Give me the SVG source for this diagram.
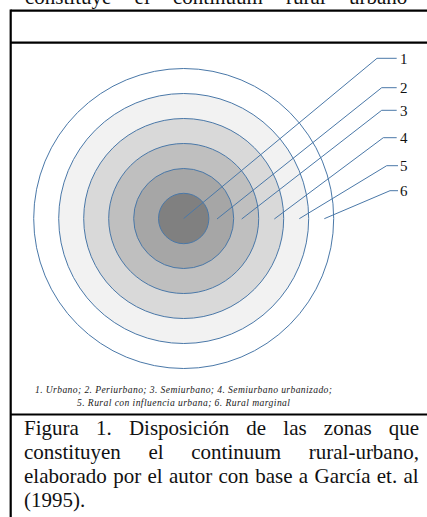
<svg xmlns="http://www.w3.org/2000/svg" width="427" height="517" viewBox="0 0 427 517">
<style>
.frame{stroke:#000;stroke-width:2.2;fill:none}
.ring{stroke:#4a78a8;stroke-width:1}
.lead{stroke:#4a78a8;stroke-width:1;fill:none}
.num{font-family:"Liberation Serif","Times New Roman",serif;font-size:15px;fill:#111}
.leg{font-family:"Liberation Serif","Times New Roman",serif;font-style:italic;font-size:9.6px;fill:#222}
.cap{font-family:"Liberation Serif","Times New Roman",serif;font-size:21px;fill:#111}
</style>
<rect width="427" height="517" fill="#fff"/>
<text class="cap" x="25" y="4.3" word-spacing="18">constituye el continuum rural urbano</text>
<g id="frame">
<line class="frame" x1="10.7" y1="10.7" x2="427" y2="10.7"/>
<line class="frame" x1="10.7" y1="42.7" x2="427" y2="42.7"/>
<line class="frame" x1="10.7" y1="414.5" x2="427" y2="414.5"/>
<line class="frame" x1="10.7" y1="9.6" x2="10.7" y2="517"/>
</g>
<g id="zone6"><circle class="ring" cx="183.7" cy="218.5" r="150" fill="#ffffff"/></g>
<g id="zone5"><circle class="ring" cx="183.7" cy="218.5" r="125" fill="#f2f2f2"/></g>
<g id="zone4"><circle class="ring" cx="183.7" cy="218.5" r="100" fill="#d9d9d9"/></g>
<g id="zone3"><circle class="ring" cx="183.7" cy="218.5" r="75" fill="#bfbfbf"/></g>
<g id="zone2"><circle class="ring" cx="183.7" cy="218.5" r="50" fill="#a6a6a6"/></g>
<g id="zone1"><circle class="ring" cx="183.7" cy="218.5" r="25.2" fill="#808080"/></g>
<g id="connectors">
<polyline class="lead" points="183.7,218.5 377,58.3 396.7,58.3"/>
<polyline class="lead" points="217,219 381.7,87.7 396.7,87.7"/>
<polyline class="lead" points="241.7,219 381.7,110.3 396.7,110.3"/>
<polyline class="lead" points="274.3,219 383.3,137.7 396.7,137.7"/>
<polyline class="lead" points="299.3,218.7 386.7,165.7 398,165.7"/>
<polyline class="lead" points="324.3,218.7 390,190.7 398,190.7"/>
</g>
<g id="labels">
<text class="num" x="400" y="63.8">1</text>
<text class="num" x="400" y="93.2">2</text>
<text class="num" x="400" y="115.8">3</text>
<text class="num" x="400" y="143.2">4</text>
<text class="num" x="400" y="171.2">5</text>
<text class="num" x="400" y="196.2">6</text>
</g>
<g id="legend">
<text class="leg" x="35" y="393.3" textLength="297" lengthAdjust="spacing">1. Urbano; 2. Periurbano; 3. Semiurbano; 4. Semiurbano urbanizado;</text>
<text class="leg" x="77" y="406" textLength="213" lengthAdjust="spacing">5. Rural con influencia urbana; 6. Rural marginal</text>
</g>
<g id="caption">
<text class="cap" x="24" y="434.5" word-spacing="11.9">Figura 1. Disposición de las zonas que</text>
<text class="cap" x="24" y="458.5" word-spacing="22.4">constituyen el continuum rural-urbano,</text>
<text class="cap" x="24" y="482.5" word-spacing="1.1">elaborado por el autor con base a García et. al</text>
<text class="cap" x="24" y="506.5">(1995).</text>
</g>
</svg>
